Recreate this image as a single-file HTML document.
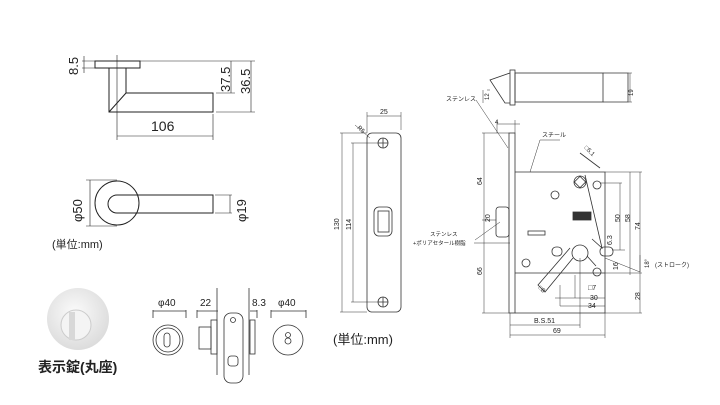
<!DOCTYPE html>
<html><head><meta charset="utf-8"><style>
html,body{margin:0;padding:0;background:#fff;}
svg{display:block;}
text{font-family:"Liberation Sans","Noto Sans CJK JP",sans-serif;fill:#222;}
</style></head><body>
<svg width="720" height="405" viewBox="0 0 720 405" xmlns="http://www.w3.org/2000/svg">
<defs>
<radialGradient id="g1" cx="0.45" cy="0.4" r="0.6"><stop offset="0" stop-color="#fbfbfb"/><stop offset="1" stop-color="#dcdcdc"/></radialGradient>
</defs>
<g stroke="#222" fill="none" stroke-width="1">
<rect x="95" y="61" width="45" height="7"/>
<path d="M109 68 V112 H213 V93 H126 V68"/>
<path d="M109 112 L126 93"/>
<g stroke-width="0.6">
<path d="M117 55 V140 M117 136 H213 M213 114 V140"/>
<path d="M82 61 H95 M82 68 H95 M84 56 V73"/>
<path d="M140 61 H255 M216 93 H235 M216 112 H255 M231 61 V93 M251 61 V112"/>
</g>
<circle cx="117" cy="203" r="22"/>
<path d="M117 195 H213 V213 H117 A9 9 0 0 1 117 195"/>
<g stroke-width="0.6"><path d="M86 180 H117 M86 226 H117 M90 180 V226 M215 195 H232 M215 213 H232 M230 195 V213"/></g>
</g>
<text x="151" y="131" font-size="14">106</text>
<text transform="translate(78,75) rotate(-90)" font-size="13">8.5</text>
<text transform="translate(230,92) rotate(-90)" font-size="13">37.5</text>
<text transform="translate(250,94) rotate(-90)" font-size="13">36.5</text>
<text transform="translate(82,222) rotate(-90)" font-size="13">φ50</text>
<text transform="translate(246,222) rotate(-90)" font-size="13">φ19</text>
<text x="52" y="248" font-size="11">(単位:mm)</text>

<circle cx="78" cy="319" r="31" fill="url(#g1)"/>
<circle cx="76" cy="325" r="15" fill="#f4f4f4" stroke="#ccc"/>
<rect x="69" y="312" width="6" height="28" fill="#d8d8d8"/>
<text x="38" y="372" font-size="14" font-weight="bold">表示錠(丸座)</text>

<g stroke="#333" fill="none" stroke-width="0.8">
<circle cx="168" cy="340" r="15"/><circle cx="168" cy="340" r="12"/>
<rect x="164" y="333" width="6" height="14" rx="3"/>
<path d="M153 310 V318 M186 310 V318 M153 311 H186"/>
<rect x="199" y="327" width="12" height="22"/><rect x="211" y="320" width="6" height="34"/>
<path d="M217 288 V375 M249 288 V375"/>
<rect x="224" y="313" width="19" height="70" rx="7"/>
<circle cx="233" cy="320" r="2.5"/>
<rect x="228" y="356" width="10" height="10" rx="3"/>
<rect x="250" y="320" width="5" height="34"/>
<path d="M197 311 H218 M197 310 V318 M250 311 H257 M257 310 V318"/>
<circle cx="288" cy="340" r="15"/>
<circle cx="288" cy="335" r="2.5"/><circle cx="288" cy="341" r="3"/>
<path d="M271 311 H306 M271 310 V318 M306 310 V318"/>
</g>
<text x="158" y="306" font-size="10">φ40</text>
<text x="200" y="306" font-size="10">22</text>
<text x="252" y="306" font-size="10">8.3</text>
<text x="278" y="306" font-size="10">φ40</text>

<g stroke="#333" fill="none" stroke-width="0.8">
<rect x="367" y="133" width="34" height="179" rx="5"/>
<circle cx="383" cy="143" r="5"/><path d="M378 143 H388 M383 138 V148"/>
<circle cx="383" cy="302" r="5"/><path d="M378 302 H388 M383 297 V307"/>
<rect x="374" y="207" width="18" height="29" rx="5"/>
<rect x="378" y="211" width="11" height="21"/>
<g stroke-width="0.5">
<path d="M340 133 H367 M342 133 V312 M340 312 H367 M351 143 H378 M353 143 V302 M351 302 H378 M367 112 V133 M401 112 V130 M367 116 H401 M355 125 L370 138"/>
</g>
</g>
<text x="380" y="114" font-size="7">25</text>
<text transform="translate(339,230) rotate(-90)" font-size="7">130</text>
<text transform="translate(351,230) rotate(-90)" font-size="7">114</text>
<text transform="translate(357,128) rotate(45)" font-size="6">R5</text>
<text x="333" y="344" font-size="13">(単位:mm)</text>

<g stroke="#333" fill="none" stroke-width="0.8">
<rect x="510" y="70" width="5" height="35"/>
<rect x="515" y="73" width="88" height="29"/>
<path d="M603 73 H628 V102 H603"/>
<path d="M510 73 L490 80 L505 103 H510"/>
<rect x="509" y="133" width="6" height="180"/>
<path d="M515 172 H605 V313 H515"/>
<path d="M515 273 H605"/>
<rect x="496" y="207" width="13" height="30" rx="3"/>
<circle cx="580" cy="182" r="6"/><rect x="576" y="178" width="8" height="8" transform="rotate(45 580 182)"/>
<circle cx="597" cy="185" r="4"/><circle cx="555" cy="195" r="4"/>
<circle cx="526" cy="263" r="4"/><circle cx="597" cy="272" r="4"/>
<rect x="573" y="212" width="18" height="8" fill="#333"/>
<rect x="528" y="231" width="17" height="4"/>
<circle cx="580" cy="253" r="8"/>
<rect x="552" y="247" width="10" height="9" rx="4"/>
<rect x="600" y="247" width="13" height="9" rx="4"/>
<path d="M573 258 L545 292 L538 285 L570 248 M587 256 L596 266 M592 239 L602 248 L585 175 M580 153 L600 168"/>
<g stroke-width="0.5">
<path d="M482 133 H509 M484 133 V313 M482 220 H496 M482 313 H509 M497 120 V133 M515 120 V133 M497 124 H520"/>
<path d="M605 172 H642 M640 172 V313 M605 273 H642 M605 313 H642 M630 172 V275 M620 183 V250 M600 183 H622 M612 250 H625"/>
<path d="M510 313 V338 M580 258 V328 M605 313 V338 M510 325 H580 M510 335 H605 M575 275 V298 M560 285 V306 M555 298 H605 M560 306 H605"/>
<path d="M483 90 V103 M487 90 H490 M628 73 H632 M628 102 H632 M630 73 V102"/>
<path d="M476 100 L508 148 M540 140 L530 172 M540 140 H560 M475 240 L500 222 M474 243 H510"/>
<path d="M605 258 L640 272 M640 255 V272"/>
</g>
</g>
<g font-size="7">
<text x="446" y="101" font-size="6">ステンレス</text>
<text x="542" y="137" font-size="6">スチール</text>
<text x="430" y="236" font-size="5.5">ステンレス</text>
<text x="413" y="245" font-size="5.5">+ポリアセタール樹脂</text>
<text x="495" y="124" font-size="6">4</text>
<text transform="translate(489,100) rotate(-90)" font-size="6">12</text>
<text transform="translate(633,96) rotate(-90)" font-size="6">19</text>
<text transform="translate(482,185) rotate(-90)">64</text>
<text transform="translate(482,275) rotate(-90)">66</text>
<text transform="translate(490,222) rotate(-90)">20</text>
<text transform="translate(620,222) rotate(-90)">50</text>
<text transform="translate(630,222) rotate(-90)">58</text>
<text transform="translate(640,230) rotate(-90)">74</text>
<text transform="translate(612,245) rotate(-90)">6.3</text>
<text transform="translate(618,270) rotate(-90)">16</text>
<text transform="translate(640,300) rotate(-90)">28</text>
<text transform="translate(649,268) rotate(-90)" font-size="6">18°</text>
<text x="655" y="267" font-size="6">(ストローク)</text>
<text transform="translate(584,148) rotate(45)" font-size="6">□5.1</text>
<text transform="translate(538,288) rotate(45)" font-size="6">□8</text>
<text x="588" y="290">□7</text>
<text x="590" y="300">30</text>
<text x="588" y="308">34</text>
<text x="534" y="323">B.S.51</text>
<text x="553" y="333">69</text>
</g>
</svg>
</body></html>
